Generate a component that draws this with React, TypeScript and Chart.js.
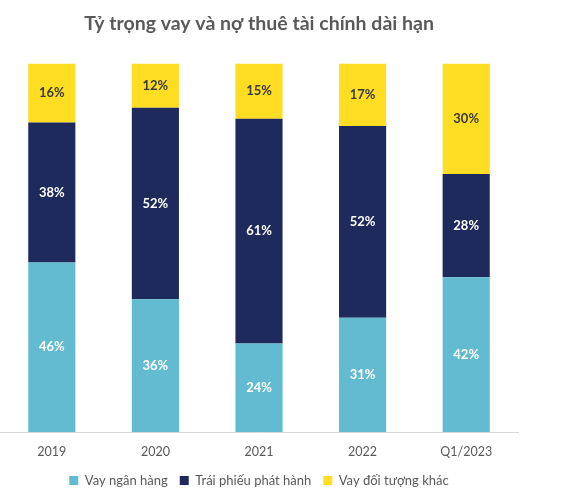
import React, { useEffect, useRef } from "react";
import { Chart, registerables } from "chart.js";

Chart.register(...registerables);

const categories = ["2019", "2020", "2021", "2022", "Q1/2023"];
const bankLoans = [46, 36, 24, 31, 42];
const bonds = [38, 52, 61, 52, 28];
const otherLoans = [16, 12, 15, 17, 30];
const seriesNames = ["Vay ngân hàng", "Trái phiếu phát hành", "Vay đối tượng khác"];
const titleText = "Tỷ trọng vay và nợ thuê tài chính dài hạn";

const FONT = "Lato, 'Open Sans', sans-serif";

const labelPlugin = {
  id: "segLabels",
  afterDatasetsDraw(chart: any) {
    const ctx = chart.ctx;
    ctx.save();
    ctx.font = "bold 13px " + FONT;
    ctx.textAlign = "center";
    ctx.textBaseline = "middle";
    chart.data.datasets.forEach((ds: any, i: number) => {
      const meta = chart.getDatasetMeta(i);
      meta.data.forEach((bar: any, j: number) => {
        const v = ds.data[j];
        const y = (bar.y + bar.base) / 2;
        ctx.fillStyle = i === 2 ? "#3a3a3a" : "#ffffff";
        ctx.fillText(v + "%", bar.x, y);
      });
    });
    ctx.restore();
  },
};

export default function App() {
  const ref = useRef<HTMLCanvasElement>(null);
  useEffect(() => {
    if (!ref.current) return;
    const chart = new Chart(ref.current, {
      type: "bar",
      data: {
        labels: categories,
        datasets: [
          { label: seriesNames[0], data: bankLoans, backgroundColor: "#62BBD0" },
          { label: seriesNames[1], data: bonds, backgroundColor: "#1F2A5C" },
          { label: seriesNames[2], data: otherLoans, backgroundColor: "#FFDD22" },
        ],
      },
      options: {
        animation: false,
        responsive: false,
        maintainAspectRatio: false,
        datasets: { bar: { categoryPercentage: 1, barPercentage: 0.455 } },
        layout: { padding: { left: 0, right: 52, top: 0, bottom: 3 } },
        scales: {
          x: {
            stacked: true,
            grid: { display: false, drawTicks: false },
            border: { display: true, color: "#d9d9d9", width: 1 },
            ticks: { color: "#595959", font: { size: 12.5, family: FONT }, padding: 12 },
            afterFit: (scale: any) => {
              scale.height = 30;
            },
          },
          y: { stacked: true, display: false, min: 0, max: 100 },
        },
        plugins: {
          title: {
            display: true,
            text: titleText,
            fullSize: false,
            color: "#595959",
            font: { size: 19.5, weight: "bold", family: FONT },
            padding: { top: 12, bottom: 28 },
          },
          legend: {
            position: "bottom",
            fullSize: false,
            labels: {
              boxWidth: 9,
              boxHeight: 9,
              color: "#595959",
              font: { size: 13, family: FONT },
              padding: 12,
            },
          },
          tooltip: { enabled: false },
        },
      },
      plugins: [labelPlugin],
    });
    return () => chart.destroy();
  }, []);
  return (
    <div style={{ position: "absolute", left: 0, top: 0, width: 570, height: 500, background: "#fff" }}>
      <canvas ref={ref} width={570} height={500} style={{ width: 570, height: 500 }} />
    </div>
  );
}
